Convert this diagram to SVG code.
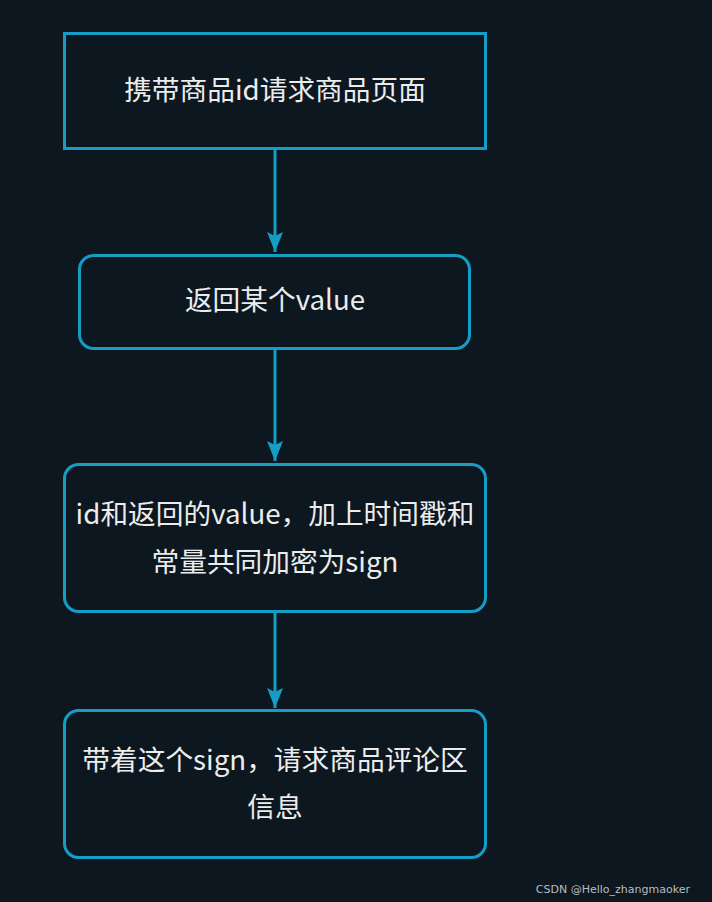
<svg xmlns="http://www.w3.org/2000/svg" width="712" height="902" viewBox="0 0 712 902">
<defs>
<style>
.box{fill:#0c1720;stroke:#149ec6;stroke-width:3}
.t{fill:#ececec;font-family:"Noto Sans CJK SC","Noto Sans",sans-serif;font-size:27.7px;text-anchor:middle;dominant-baseline:central}
.edge{stroke:#149ec6;stroke-width:3;fill:none}
</style>
<marker id="ah2" viewBox="0 0 20 16" markerWidth="20" markerHeight="16" refX="20" refY="8" orient="auto" markerUnits="userSpaceOnUse">
<path d="M0,0 L20,8 L0,16 L4,8 Z" fill="#149ec6"/>
</marker>
</defs>
<rect width="712" height="902" fill="#0c1720"/>
<g id="edges">
<line class="edge" x1="275" y1="150" x2="275" y2="252" marker-end="url(#ah2)"/>
<line class="edge" x1="275" y1="349" x2="275" y2="461" marker-end="url(#ah2)"/>
<line class="edge" x1="275" y1="612" x2="275" y2="708" marker-end="url(#ah2)"/>
</g>
<g id="n1">
<rect class="box" x="64.5" y="33.5" width="421" height="115"/>
<text class="t" x="275" y="88">携带商品id请求商品页面</text>
</g>
<g id="n2">
<rect class="box" x="79.5" y="255.5" width="390" height="93" rx="14"/>
<text class="t" x="275" y="298">返回某个value</text>
</g>
<g id="n3">
<rect class="box" x="64.5" y="464.5" width="421" height="147" rx="14"/>
<text class="t" x="275" y="512">id和返回的value，加上时间戳和</text>
<text class="t" x="275" y="560">常量共同加密为sign</text>
</g>
<g id="n4">
<rect class="box" x="64.5" y="710.5" width="421" height="147" rx="14"/>
<text class="t" x="275" y="758">带着这个sign，请求商品评论区</text>
<text class="t" x="275" y="805">信息</text>
</g>
<text x="690" y="893" fill="#b8bcc0" font-family="'DejaVu Sans','Liberation Sans',sans-serif" font-size="11" text-anchor="end">CSDN @Hello_zhangmaoker</text>
</svg>
